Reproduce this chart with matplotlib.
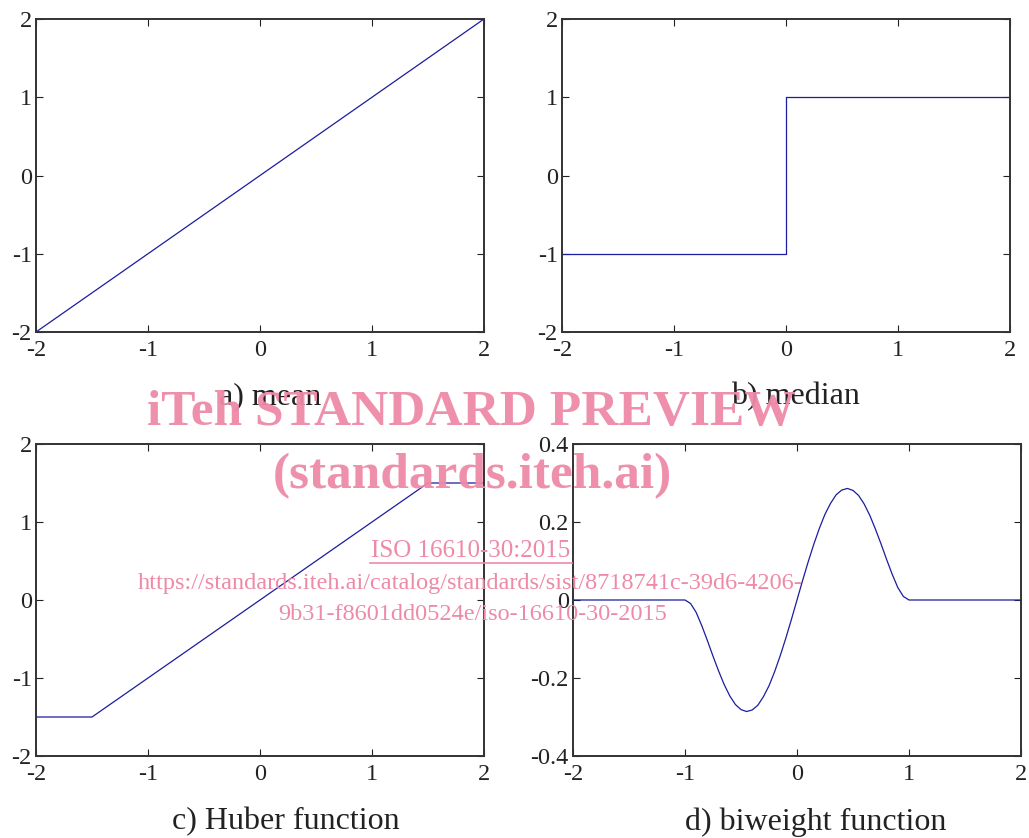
import matplotlib
matplotlib.use("Agg")
import matplotlib.pyplot as plt

plt.rcParams['axes.unicode_minus'] = False
plt.rcParams['font.family'] = ['Liberation Serif', 'DejaVu Serif']

# ---- data ----
mean_x = [-2, 2]
mean_y = [-2, 2]

median_x = [-2, 0, 0, 2]
median_y = [-1, -1, 1, 1]

huber_x = [-2, -1.5, 1.5, 2]
huber_y = [-1.5, -1.5, 1.5, 1.5]

biw_x = [-2.0, -1.0, -0.95, -0.9, -0.85, -0.8, -0.75, -0.7, -0.65, -0.6, -0.55, -0.5,
         -0.45, -0.4, -0.35, -0.3, -0.25, -0.2, -0.15, -0.1, -0.05, 0.0,
         0.05, 0.1, 0.15, 0.2, 0.25, 0.3, 0.35, 0.4, 0.45, 0.5, 0.55, 0.6,
         0.65, 0.7, 0.75, 0.8, 0.85, 0.9, 0.95, 1.0, 2.0]
biw_y = [0.0, 0.0, -0.009, -0.032, -0.066, -0.104, -0.144, -0.182, -0.217, -0.246, -0.268, -0.281,
         -0.286, -0.282, -0.270, -0.248, -0.220, -0.184, -0.143, -0.098, -0.050, 0.0,
         0.050, 0.098, 0.143, 0.184, 0.220, 0.248, 0.270, 0.282, 0.286, 0.281, 0.268, 0.246,
         0.217, 0.182, 0.144, 0.104, 0.066, 0.032, 0.009, 0.0, 0.0]

xticks = [-2, -1, 0, 1, 2]
yticks_big = [-2, -1, 0, 1, 2]
yticks_small = [-0.4, -0.2, 0, 0.2, 0.4]
yticklabels_small = ['-0.4', '-0.2', '0', '0.2', '0.4']
titles = ['a) mean', 'b) median', 'c) Huber function', 'd) biweight function']

W, H = 1029, 838
fig = plt.figure(figsize=(W / 100, H / 100), dpi=100)

def frac(l, t, r, b):
    return [l / W, 1 - b / H, (r - l) / W, (b - t) / H]

boxes = [frac(36, 19, 484, 332), frac(562, 19, 1010, 332),
         frac(36, 444, 484, 756), frac(573, 444, 1021, 756)]
line_color = '#1c1ca0'
tick_fs = 17.5

axs = [fig.add_axes(b) for b in boxes]
series = [(mean_x, mean_y), (median_x, median_y), (huber_x, huber_y), (biw_x, biw_y)]
for i, (ax, (xs, ys)) in enumerate(zip(axs, series)):
    ax.plot(xs, ys, color=line_color, lw=0.9)
    ax.set_xlim(-2, 2)
    ax.set_xticks(xticks)
    ax.set_xticklabels([str(t) for t in xticks])
    if i == 3:
        ax.set_ylim(-0.4, 0.4)
        ax.set_yticks(yticks_small)
        ax.set_yticklabels(yticklabels_small)
    else:
        ax.set_ylim(-2, 2)
        ax.set_yticks(yticks_big)
        ax.set_yticklabels([str(t) for t in yticks_big])
    ax.tick_params(direction='in', top=True, right=True, length=5, width=0.8,
                   labelsize=tick_fs, colors='#222222')
    ax.tick_params(axis='y', pad=3)
    ax.tick_params(axis='x', pad=6)
    for s in ax.spines.values():
        s.set_linewidth(1.4)
        s.set_color('#333333')

title_pos = [(270, 397), (795, 397), (286, 822), (816, 822)]
for (x, y), t in zip(title_pos, titles):
    fig.text(x / W, 1 - y / H, t, ha='center', va='center', fontsize=23, color='#222222')

# ---- watermark ----
pink = '#ee8aa8'
fig.text(471 / W, 1 - 413 / H, 'iTeh STANDARD PREVIEW', ha='center', va='center',
         fontsize=37, fontweight='bold', color=pink, alpha=0.95)
fig.text(472 / W, 1 - 476 / H, '(standards.iteh.ai)', ha='center', va='center',
         fontsize=37, fontweight='bold', color=pink, alpha=0.95)
fig.text(471 / W, 1 - 551 / H, 'ISO 16610-30:2015', ha='center', va='center',
         fontsize=18, color=pink)
fig.add_artist(plt.Line2D([370 / W, 572 / W], [1 - 563 / H, 1 - 563 / H], color=pink, lw=1.2))
fig.text(470 / W, 1 - 583 / H,
         'https://standards.iteh.ai/catalog/standards/sist/8718741c-39d6-4206-',
         ha='center', va='center', fontsize=17.5, color=pink)
fig.text(473 / W, 1 - 614 / H, '9b31-f8601dd0524e/iso-16610-30-2015',
         ha='center', va='center', fontsize=17.5, color=pink)

fig.savefig('out.png', dpi=100)
